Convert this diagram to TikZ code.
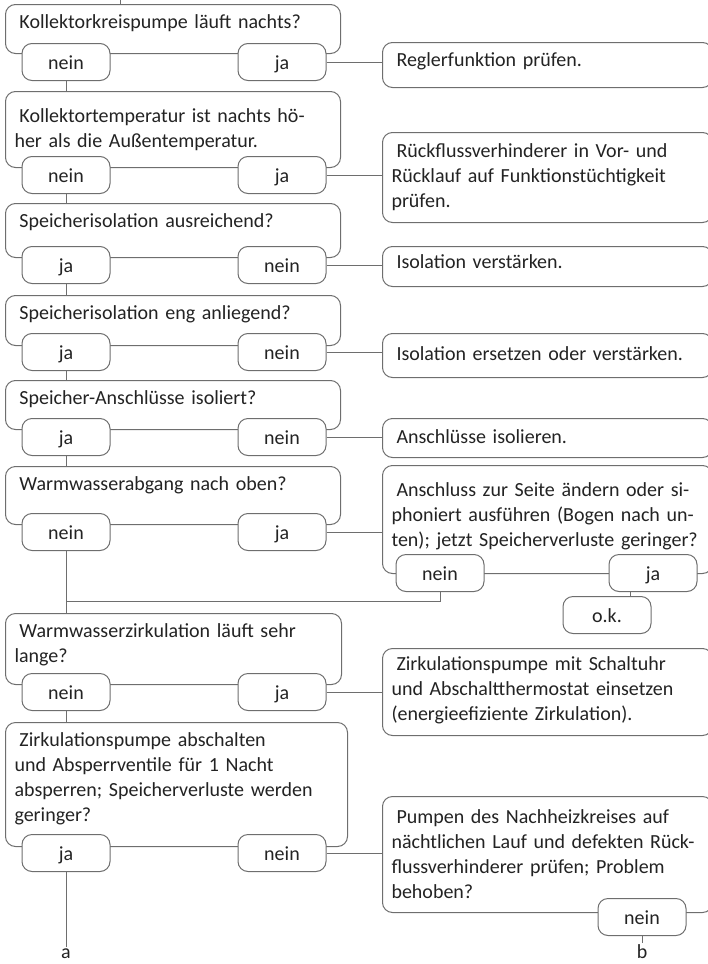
\documentclass[tikz,border=0pt]{standalone}
\usepackage{fontspec}
\setmainfont{Carlito}
\usepackage{tikz}
\usetikzlibrary{positioning, calc}
\definecolor{linegray}{RGB}{110,110,110}
\definecolor{textdark}{RGB}{35,35,35}
\newcommand{\boxfont}{\fontsize{20}{25}\selectfont}
\newcommand{\ein}{\hspace*{5pt}}
\tikzset{
  frage/.style={rectangle, draw=linegray, fill=white, rounded corners=10pt,
    anchor=north west, align=left, inner xsep=9pt, inner ysep=0pt,
    text height=24pt, font=\boxfont, text=textdark, line width=1pt},
  ergebnis/.style={frage, text width=312pt},
  antwort/.style={rectangle, draw=linegray, fill=white, rounded corners=10pt,
    minimum width=88pt, minimum height=37pt, inner sep=0pt,
    text height=14pt, text depth=0pt, font=\boxfont, text=textdark, line width=1pt},
  line/.style={draw=linegray, line width=1pt},
  marke/.style={anchor=base, font=\boxfont, text=textdark, inner sep=1pt}
}

\begin{document}
\begin{tikzpicture}[x=1pt, y=-1pt]
  \useasboundingbox (0,0) rectangle (708,964);
  \clip (0,0) rectangle (708,964);

  % Fragen
  \node[frage, text width=317pt, text depth=25pt] (q1) at (5,4) {\ein Kollektorkreispumpe läuft nachts?};
  \node[frage, text width=317pt, text height=31pt, text depth=45pt] (q2) at (5,91) {\ein Kollektortemperatur ist nachts hö-\\her als die Außentemperatur.};
  \node[frage, text width=317pt, text depth=30pt] (q3) at (5,203) {\ein Speicherisolation ausreichend?};
  \node[frage, text width=317pt, text depth=26pt] (q4) at (5,295) {\ein Speicherisolation eng anliegend?};
  \node[frage, text width=317pt, text depth=25pt] (q5) at (5,380) {\ein Speicher-Anschlüsse isoliert?};
  \node[frage, text width=317pt, text depth=34pt] (q6) at (5,466) {\ein Warmwasserabgang nach oben?};
  \node[frage, text width=318pt, text depth=47pt] (q7) at (5,613) {\ein Warmwasserzirkulation läuft sehr\\lange?};
  \node[frage, text width=324pt, text depth=100pt] (q8) at (5,722) {\ein Zirkulationspumpe abschalten\\und Absperrventile für 1 Nacht\\absperren; Speicherverluste werden\\geringer?};

  % Antworten links / rechts
  \node[antwort] (n1) at (66,62) {nein};
  \node[antwort] (j1) at (282,62) {ja};
  \node[antwort] (n2) at (66,175) {nein};
  \node[antwort] (j2) at (282,175) {ja};
  \node[antwort] (j3) at (66,265) {ja};
  \node[antwort] (n3) at (282,265) {nein};
  \node[antwort] (j4) at (66,352) {ja};
  \node[antwort] (n4) at (282,352) {nein};
  \node[antwort] (j5) at (66,437) {ja};
  \node[antwort] (n5) at (282,437) {nein};
  \node[antwort] (n6) at (66,532) {nein};
  \node[antwort] (j6) at (282,532) {ja};
  \node[antwort] (n7) at (66,692) {nein};
  \node[antwort] (j7) at (282,692) {ja};
  \node[antwort] (j8) at (66,853) {ja};
  \node[antwort] (n8) at (282,853) {nein};

  % Massnahmen
  \node[ergebnis, text depth=21pt] (r1) at (382,42) {\ein Reglerfunktion prüfen.};
  \node[ergebnis, text height=25pt, text depth=65pt] (r2) at (382,132) {\ein Rückflussverhinderer in Vor- und\\Rücklauf auf Funktionstüchtigkeit\\prüfen.};
  \node[ergebnis, text height=22pt, text depth=18pt] (r3) at (382,246) {\ein Isolation verstärken.};
  \node[ergebnis, text height=27pt, text depth=17pt] (r4) at (382,333) {\ein Isolation ersetzen oder verstärken.};
  \node[ergebnis, text height=25pt, text depth=14pt] (r5) at (382,418) {\ein Anschlüsse isolieren.};
  \node[ergebnis, text height=31pt, text depth=77pt] (r6) at (382,465) {\ein Anschluss zur Seite ändern oder si-\\phoniert ausführen (Bogen nach un-\\ten); jetzt Speicherverluste geringer?};
  \node[ergebnis, text height=22pt, text depth=65pt] (r7) at (382,648) {\ein Zirkulationspumpe mit Schaltuhr\\und Abschaltthermostat einsetzen\\(energieefiziente Zirkulation).};
  \node[ergebnis, text height=27pt, text depth=89pt] (r8) at (382,796) {\ein Pumpen des Nachheizkreises auf\\nächtlichen Lauf und defekten Rück-\\flussverhinderer prüfen; Problem\\behoben?};

  \node[antwort] (n6r) at (440,573) {nein};
  \node[antwort] (j6r) at (653,573) {ja};
  \node[antwort] (ok) at (607,615) {o.k.};
  \node[antwort] (n8r) at (642,917) {nein};

  % Ausgaenge
  \node[marke] (a) at (66,958) {a};
  \node[marke] (b) at (642,958) {b};
  \coordinate (start) at (120,0);
  \coordinate (zus) at (66,601);

  % Hauptstrang
  \draw[line] (start) -- (start |- q1.north);
  \draw[line] (n1.south) -- (n1.south |- q2.north);
  \draw[line] (n2.south) -- (n2.south |- q3.north);
  \draw[line] (j3.south) -- (j3.south |- q4.north);
  \draw[line] (j4.south) -- (j4.south |- q5.north);
  \draw[line] (j5.south) -- (j5.south |- q6.north);
  \draw[line] (n6.south) -- (n6.south |- q7.north);
  \draw[line] (n7.south) -- (n7.south |- q8.north);
  \draw[line] (j8.south) -- (a.north);

  % Abzweige nach rechts
  \draw[line] (j1.east) -- (j1.east -| r1.west);
  \draw[line] (j2.east) -- (j2.east -| r2.west);
  \draw[line] (n3.east) -- (n3.east -| r3.west);
  \draw[line] (n4.east) -- (n4.east -| r4.west);
  \draw[line] (n5.east) -- (n5.east -| r5.west);
  \draw[line] (j6.east) -- (j6.east -| r6.west);
  \draw[line] (j7.east) -- (j7.east -| r7.west);
  \draw[line] (n8.east) -- (n8.east -| r8.west);

  % Rueckfuehrung und Ende
  \draw[line] (n6r.south) |- (zus);
  \coordinate (mid) at ($(ok.north)!0.5!(j6r.south)$);
  \draw[line] (mid |- j6r.south) -- (mid |- ok.north);
  \draw[line] (n8r.south) -- (b.north);
\end{tikzpicture}
\end{document}
